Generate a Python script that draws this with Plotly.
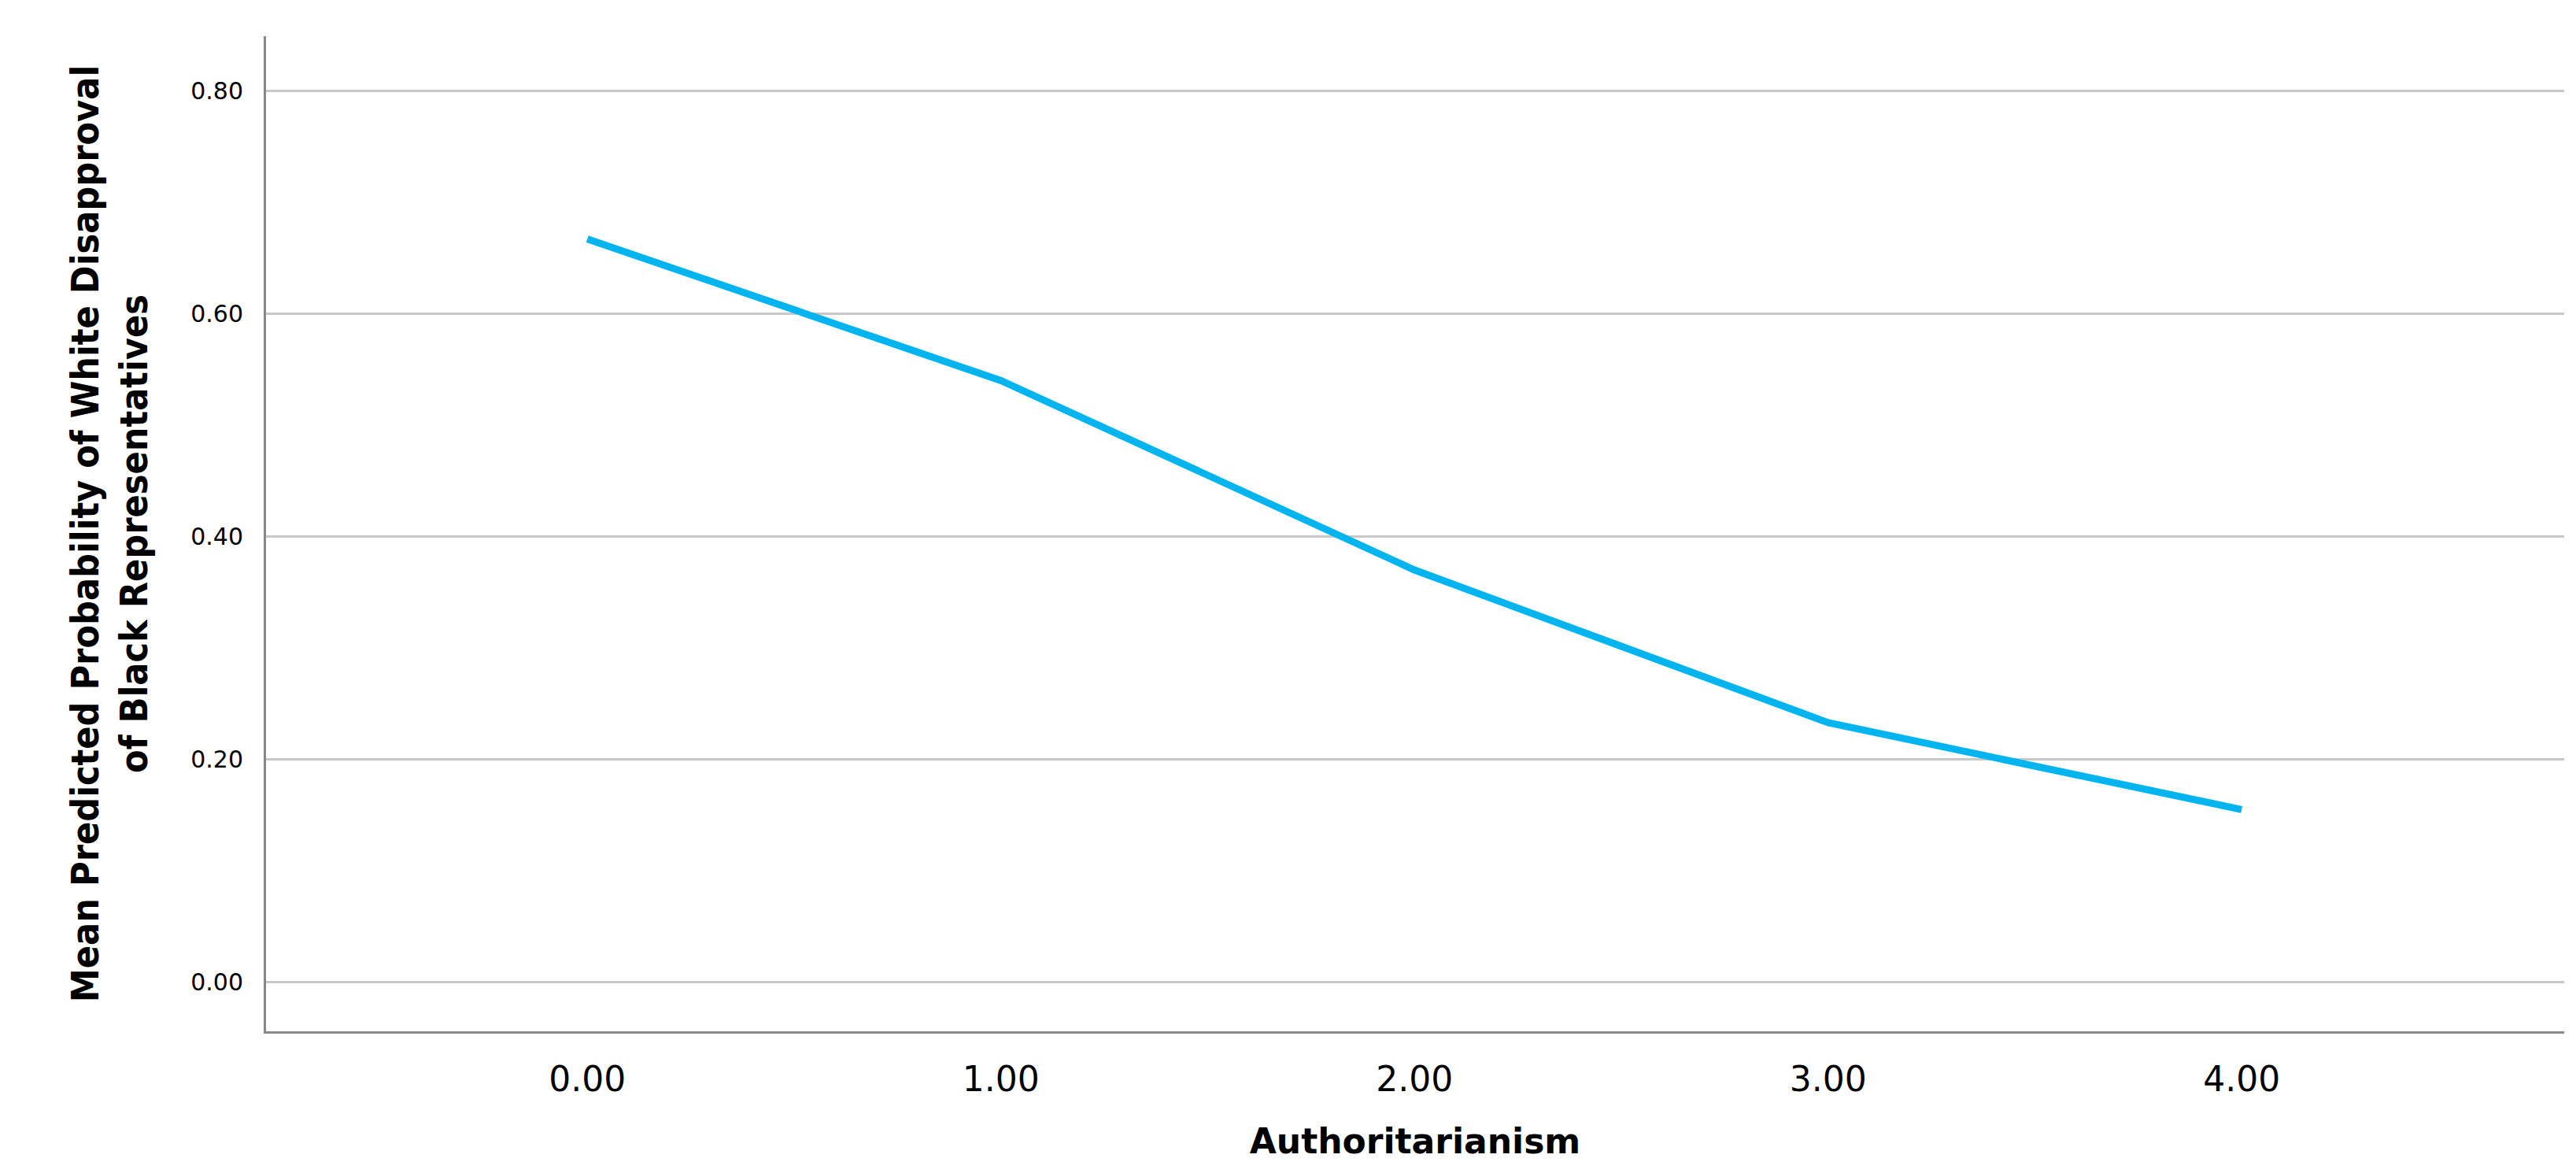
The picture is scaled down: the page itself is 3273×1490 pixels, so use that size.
import plotly.graph_objects as go

x_vals = [0, 1, 2, 3, 4]
y_vals = [0.667, 0.540, 0.370, 0.233, 0.155]
x_ticks = [0, 1, 2, 3, 4]
x_tick_labels = ["0.00", "1.00", "2.00", "3.00", "4.00"]
y_ticks = [0, 0.2, 0.4, 0.6, 0.8]
y_tick_labels = ["0.00", "0.20", "0.40", "0.60", "0.80"]

fig = go.Figure(go.Scatter(x=x_vals, y=y_vals, mode="lines",
                           line=dict(color="#00B4F0", width=9)))
fig.update_layout(
    width=3273, height=1490, plot_bgcolor="white", paper_bgcolor="white",
    margin=dict(l=330, r=23, t=38, b=188), showlegend=False,
    font=dict(family="DejaVu Sans Condensed, DejaVu Sans, sans-serif", color="black"),
)
fig.update_xaxes(range=[-0.777, 4.78], tickvals=x_ticks, ticktext=x_tick_labels,
                 tickfont=dict(size=44, family="DejaVu Sans"), showgrid=False,
                 showline=True, linecolor="#888", linewidth=3, ticks="outside", ticklen=20,
                 tickcolor="rgba(0,0,0,0)", zeroline=False,
                 title=dict(text="<b>Authoritarianism</b>", font=dict(size=44, family="DejaVu Sans"), standoff=40))
fig.update_yaxes(range=[-0.044, 0.849], tickvals=y_ticks, ticktext=y_tick_labels,
                 tickfont=dict(size=30, family="DejaVu Sans"), showgrid=True, gridcolor="#c8c8c8", gridwidth=3,
                 showline=True, linecolor="#888", linewidth=3, ticks="outside", ticklen=20,
                 tickcolor="rgba(0,0,0,0)", zeroline=False,
                 title=dict(text="<b>Mean Predicted Probability of White Disapproval<br>of Black Representatives</b>",
                            font=dict(size=48, family="DejaVu Sans Condensed"), standoff=40))
fig.write_html("out.html")
